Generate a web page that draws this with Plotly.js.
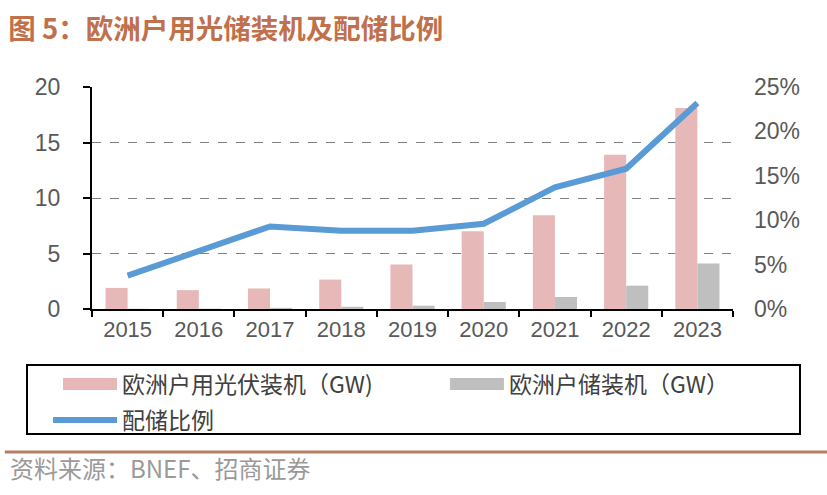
<!DOCTYPE html>
<html>
<head>
<meta charset="utf-8">
<script src="https://cdn.plot.ly/plotly-3.0.1.min.js"></script>
<style>html,body{margin:0;padding:0;background:#fff;}#chart{width:827px;height:495px;}</style>
</head>
<body>
<div id="chart"></div>
<script>
const years = ['2015','2016','2017','2018','2019','2020','2021','2022','2023'];
const pvInstalled = [1.9, 1.7, 1.85, 2.65, 4.0, 7.0, 8.45, 13.9, 18.1];
const storageInstalled = [0.02, 0.03, 0.1, 0.2, 0.3, 0.63, 1.08, 2.1, 4.1];
const attachRate = [0.0375, 0.065, 0.093, 0.088, 0.088, 0.096, 0.137, 0.158, 0.232];
const leftTicks = [0, 5, 10, 15, 20];
const rightTicks = [0, 0.05, 0.10, 0.15, 0.20, 0.25];

const FONT = '"Noto Sans CJK SC", "Liberation Sans", Arial, sans-serif';
const TICKFONT = '"Liberation Sans", Arial, sans-serif';

const traces = [
  {type:'bar', name:'欧洲户用光伏装机（GW)', x:years, y:pvInstalled,
   marker:{color:'#E6B9B8'}, yaxis:'y', offsetgroup:'a', legend:'legend', legendgroup:'pv'},
  {type:'bar', name:'欧洲户储装机（GW）', x:years, y:storageInstalled,
   marker:{color:'#BFBFBF'}, yaxis:'y', offsetgroup:'b', legend:'legend2', legendgroup:'st'},
  {type:'scatter', mode:'lines', name:'配储比例', x:years, y:attachRate,
   line:{color:'#5B9BD5', width:6}, yaxis:'y2', legend:'legend', legendgroup:'ratio'}
];

const legendFont = {family:FONT, size:23, color:'#404040'};

const layout = {
  width:827, height:495,
  margin:{l:92, r:94, t:87, b:186, autoexpand:false},
  paper_bgcolor:'#fff', plot_bgcolor:'#fff',
  barmode:'group', bargap:0.38, bargroupgap:0,
  showlegend:true,
  font:{family:FONT, color:'#404040'},
  title:{text:'<b>图 5：欧洲户用光储装机及配储比例</b>', x:0.01, xanchor:'left', y:0.94, yanchor:'middle',
         font:{family:FONT, size:27.5, color:'#C0704A'}},
  xaxis:{type:'category', showline:true, linecolor:'#000', linewidth:2, automargin:false,
         ticks:'outside', tickson:'boundaries', ticklen:6, tickwidth:2, tickcolor:'#000',
         tickangle:0,
         tickfont:{family:TICKFONT, size:22, color:'#595959'}, showgrid:false, fixedrange:true},
  yaxis:{range:[0,20], tickvals:leftTicks, showline:true, linecolor:'#000', linewidth:2, automargin:false,
         ticks:'outside', ticklen:7, tickwidth:2, tickcolor:'#000', ticklabelstandoff:18,
         showgrid:true, gridcolor:'#808080', griddash:'dash', gridwidth:1,
         zeroline:false, tickfont:{family:TICKFONT, size:23, color:'#595959'}},
  yaxis2:{range:[0,0.25], tickvals:rightTicks, tickformat:'.0%', overlaying:'y', side:'right', automargin:false,
          showline:false, showgrid:false, zeroline:false, ticks:'', ticklabelstandoff:20,
          tickfont:{family:TICKFONT, size:23, color:'#595959'}},
  legend:{orientation:'v', x:-0.0686, xanchor:'left', y:-0.2415, yanchor:'top',
          itemwidth:64, font:legendFont, tracegroupgap:3,
          bgcolor:'rgba(0,0,0,0)'},
  legend2:{orientation:'v', x:0.535, xanchor:'left', y:-0.2415, yanchor:'top',
          itemwidth:64, font:legendFont, bgcolor:'rgba(0,0,0,0)'},
  shapes:[
    {type:'rect', xref:'paper', yref:'paper', x0:-0.1014, x1:1.1045, y0:-0.252, y1:-0.563,
     line:{color:'#000', width:2}, fillcolor:'rgba(0,0,0,0)'},
    {type:'line', xref:'paper', yref:'paper', x0:-0.136, x1:1.147, y0:-0.644, y1:-0.644,
     line:{color:'#B87E64', width:3}}
  ],
  annotations:[
    {text:'资料来源：BNEF、招商证券', xref:'paper', yref:'paper', x:-0.131, y:-0.716,
     xanchor:'left', yanchor:'middle', showarrow:false,
     font:{family:FONT, size:24, color:'#9A9A9A'}}
  ]
};

Plotly.newPlot('chart', traces, layout, {displayModeBar:false, staticPlot:true}).then(function(gd){
  // widen legend swatches to match the reference's long swatches
  gd.querySelectorAll('g.legendpoints path').forEach(function(p){
    if (p.classList.contains('js-line')) {
      p.setAttribute('d', 'M15,0h54');
      p.removeAttribute('transform');
    } else if (!p.classList.contains('js-fill')) {
      p.setAttribute('d', 'M69,6H15V-6H69Z');
      p.removeAttribute('transform');
    }
  });
});
</script>
</body>
</html>
